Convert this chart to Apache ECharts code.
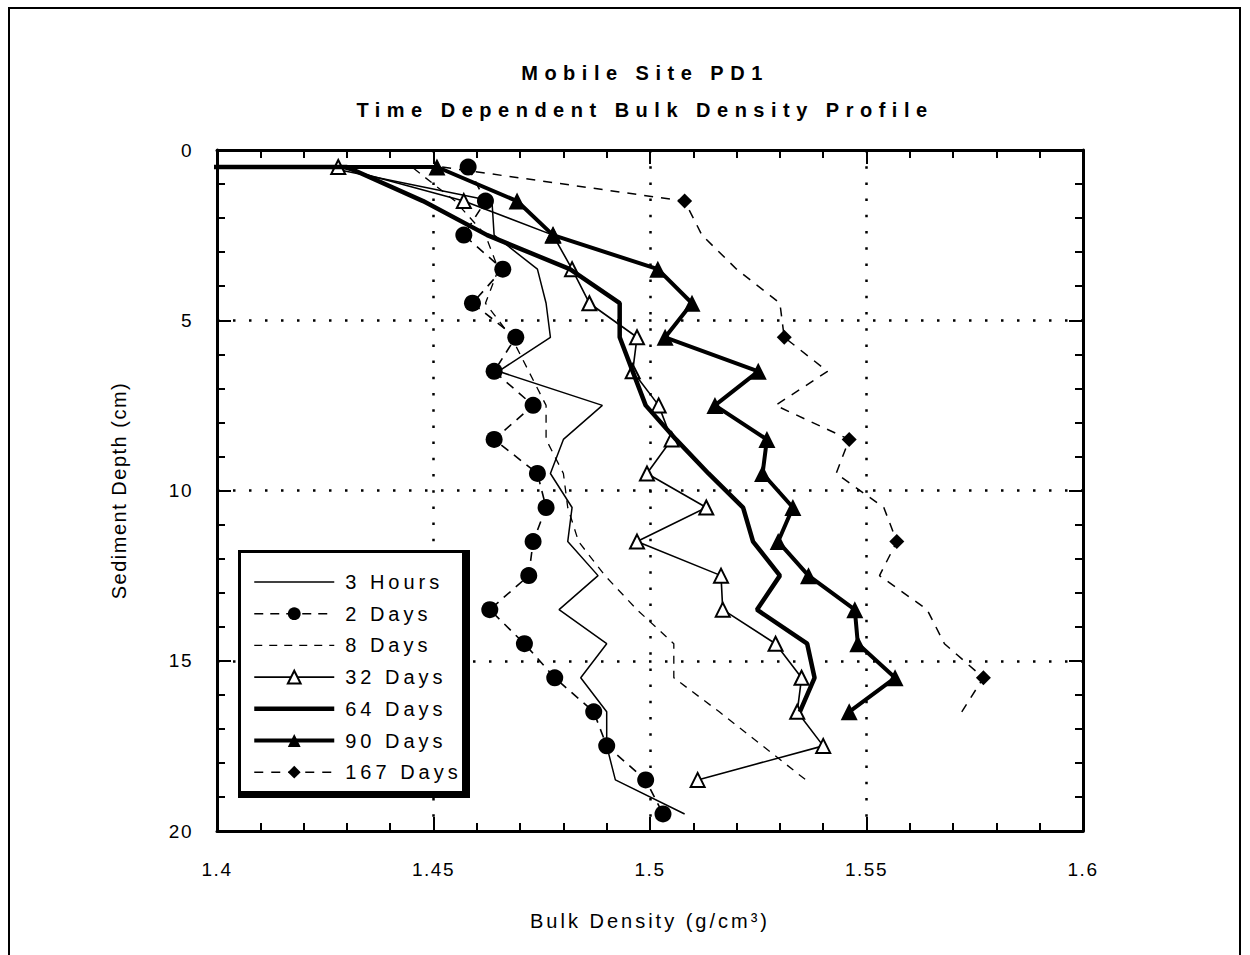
<!DOCTYPE html>
<html>
<head>
<meta charset="utf-8">
<title>Mobile Site PD1</title>
<script src="https://cdn.jsdelivr.net/npm/echarts/dist/echarts.min.js"></script>
<style>
  html, body { margin: 0; padding: 0; background: #fff; }
  #chart { width: 1250px; height: 955px; }
</style>
</head>
<body>
<div id="chart"></div>
<script>
// depth of each sample (cm)
var depths = [0.5, 1.5, 2.5, 3.5, 4.5, 5.5, 6.5, 7.5, 8.5, 9.5,
              10.5, 11.5, 12.5, 13.5, 14.5, 15.5, 16.5, 17.5, 18.5, 19.5];

// bulk density (g/cm3) per depth, null = no sample
var hours3 = [1.425, 1.4635, 1.464, 1.474, 1.476, 1.477, 1.465, 1.489, 1.480, 1.477,
              1.482, 1.481, 1.488, 1.479, 1.490, 1.484, 1.490, 1.490, 1.492, 1.508];
var days2 = [1.458, 1.462, 1.457, 1.466, 1.459, 1.469, 1.464, 1.473, 1.464, 1.474,
             1.476, 1.473, 1.472, 1.463, 1.471, 1.478, 1.487, 1.490, 1.499, 1.503];
var days8 = [1.445, 1.455, 1.462, 1.465, 1.462, 1.468, 1.472, 1.476, 1.476, 1.480,
             1.481, 1.4835, 1.4896, 1.497, 1.5055, 1.5055, 1.516, 1.526, 1.536, null];
var days32 = [1.428, 1.457, 1.4776, 1.482, 1.486, 1.497, 1.496, 1.502, 1.505, 1.4993,
              1.513, 1.497, 1.5164, 1.5168, 1.529, 1.535, 1.534, 1.540, 1.511, null];
var days64 = [1.430, 1.4476, 1.4624, 1.4815, 1.493, 1.493, 1.496, 1.499, 1.506, 1.5135,
              1.5215, 1.5238, 1.530, 1.5247, 1.5363, 1.538, 1.5346, null, null, null];
var days90 = [1.4508, 1.4693, 1.4776, 1.5018, 1.5097, 1.5035, 1.525, 1.515, 1.527, 1.526,
              1.533, 1.5296, 1.5366, 1.5473, 1.548, 1.5566, 1.546, null, null, null];
var days167 = [1.452, 1.508, 1.512, 1.520, 1.530, 1.531, 1.541, 1.529, 1.546, 1.543,
               1.554, 1.557, 1.553, 1.564, 1.568, 1.577, 1.572, null, null, null];

// surface reading below the axis range (line runs in from the left edge)
var surfaceLead = [1.30, null, 1.30, null, 1.30, 1.30, null];
// 167 days only has markers drawn at these depths
var marked167 = [1.5, 5.5, 8.5, 11.5, 15.5];

var seriesNames = ['3 Hours', '2 Days', '8 Days', '32 Days', '64 Days', '90 Days', '167 Days'];
var seriesValues = [hours3, days2, days8, days32, days64, days90, days167];

var titleLines = ['Mobile Site PD1', 'Time Dependent Bulk Density Profile'];
var xName = 'Bulk Density (g/cm\u00b3)';
var yName = 'Sediment Depth (cm)';
var xTicks = [1.4, 1.45, 1.5, 1.55, 1.6];
var yTicks = [0, 5, 10, 15, 20];

var FONT = '"Liberation Sans", Arial, sans-serif';

function buildData(values, lead, marks) {
    var out = [];
    if (lead != null) {
        out.push({ value: [lead, depths[0]], symbolSize: 0 });
    }
    for (var i = 0; i < values.length; i++) {
        if (values[i] == null) continue;
        var item = { value: [values[i], depths[i]] };
        if (marks && marks.indexOf(depths[i]) < 0) item.symbolSize = 0;
        out.push(item);
    }
    return out;
}

var styles = [
    { symbol: 'none', lw: 1.5, dash: 'solid' },
    { symbol: 'circle', size: 17, lw: 1.6, dash: [9, 7], fill: '#000' },
    { symbol: 'none', lw: 1.3, dash: [8, 7] },
    { symbol: 'triangle', size: 14, lw: 1.6, dash: 'solid', fill: '#fff', border: 2 },
    { symbol: 'none', lw: 4.5, dash: 'solid' },
    { symbol: 'triangle', size: 17, lw: 4, dash: 'solid', fill: '#000' },
    { symbol: 'diamond', size: 15, lw: 1.5, dash: [9, 8], fill: '#000' }
];

var series = seriesNames.map(function (name, k) {
    var s = styles[k];
    return {
        name: name,
        type: 'line',
        data: buildData(seriesValues[k], surfaceLead[k], k === 6 ? marked167 : null),
        symbol: s.symbol,
        symbolSize: s.size || 0,
        showSymbol: s.symbol !== 'none',
        clip: true,
        z: 3 + k,
        lineStyle: { color: '#000', width: s.lw, type: s.dash },
        itemStyle: {
            color: s.fill || '#000',
            borderColor: '#000',
            borderWidth: s.border || 0
        },
        emphasis: { disabled: true }
    };
});

// legend entries carry the real line width; marker-less lines get no dot
var legendData = seriesNames.map(function (name, k) {
    var s = styles[k];
    var item = { name: name, lineStyle: { width: s.lw, type: s.dash, color: '#000' } };
    if (s.symbol === 'none') {
        item.itemStyle = { color: 'rgba(0,0,0,0)', borderWidth: 0 };
    }
    return item;
});

function axisCommon() {
    return {
        axisLine: { show: true, onZero: false, lineStyle: { color: '#000', width: 3 } },
        axisTick: { show: true, inside: true, length: 14, lineStyle: { color: '#000', width: 2 } },
        minorTick: { show: true, splitNumber: 5, length: 8, lineStyle: { color: '#000', width: 2 } }
    };
}

var chart = echarts.init(document.getElementById('chart'), null, { renderer: 'svg' });

var option = {
    animation: false,
    backgroundColor: '#fff',
    title: {
        text: titleLines.join('\n'),
        left: 640,
        top: 49,
        textAlign: 'center',
        textStyle: {
            fontFamily: FONT, fontSize: 20, fontWeight: 'bold',
            color: '#000', lineHeight: 37
        }
    },
    grid: { left: 217, top: 150, width: 866, height: 681, outerBoundsMode: 'none' },
    legend: {
        orient: 'vertical',
        left: 252,
        top: 572,
        z: 21,
        data: legendData,
        itemWidth: 80,
        itemHeight: 16,
        itemGap: 11.7,
        padding: 0,
        selectedMode: false,
        textStyle: { fontFamily: FONT, fontSize: 20, color: '#000', lineHeight: 20, padding: [0, 0, 0, 6] }
    },
    xAxis: [
        Object.assign(axisCommon(), {
            type: 'value',
            position: 'bottom',
            min: xTicks[0],
            max: xTicks[xTicks.length - 1],
            interval: 0.05,
            name: xName,
            nameLocation: 'middle',
            nameGap: 80,
            nameTextStyle: { fontFamily: FONT, fontSize: 20, color: '#000' },
            axisLabel: {
                margin: 29, fontFamily: FONT, fontSize: 19, color: '#000',
                formatter: function (v) { return String(+v.toFixed(2)); }
            },
            splitLine: { show: true, lineStyle: { color: '#000', width: 2.5, type: [2.5, 13.7] } }
        }),
        Object.assign(axisCommon(), {
            type: 'value',
            position: 'top',
            min: xTicks[0],
            max: xTicks[xTicks.length - 1],
            interval: 0.05,
            axisLabel: { show: false },
            splitLine: { show: false }
        })
    ],
    yAxis: [
        Object.assign(axisCommon(), {
            type: 'value',
            position: 'left',
            inverse: true,
            min: yTicks[0],
            max: yTicks[yTicks.length - 1],
            interval: 5,
            name: yName,
            nameLocation: 'middle',
            nameGap: 88,
            nameTextStyle: { fontFamily: FONT, fontSize: 20, color: '#000' },
            axisLabel: { margin: 24, fontFamily: FONT, fontSize: 19, color: '#000' },
            splitLine: { show: true, lineStyle: { color: '#000', width: 2.5, type: [2.5, 13.5] } }
        }),
        Object.assign(axisCommon(), {
            type: 'value',
            position: 'right',
            inverse: true,
            min: yTicks[0],
            max: yTicks[yTicks.length - 1],
            interval: 5,
            axisLabel: { show: false },
            splitLine: { show: false }
        })
    ],
    graphic: [
        {   // outer page frame
            type: 'rect',
            shape: { x: 9, y: 8, width: 1231, height: 960 },
            style: { fill: 'none', stroke: '#000', lineWidth: 2 },
            silent: true
        },
        {   // legend box: heavy drop edge
            type: 'rect',
            z: 20,
            shape: { x: 238, y: 550, width: 232, height: 248 },
            style: { fill: '#000' },
            silent: true
        },
        {
            type: 'rect',
            z: 20,
            shape: { x: 241, y: 553, width: 221, height: 238 },
            style: { fill: '#fff' },
            silent: true
        }
    ],
    series: series
};

chart.setOption(option);

// the original lettering is tracked out; add the spacing on the svg text
function trackText() {
    var texts = document.querySelectorAll('#chart svg text');
    for (var i = 0; i < texts.length; i++) {
        var t = texts[i];
        var s = t.textContent;
        var sp = 1.5;
        if (titleLines.indexOf(s) >= 0) sp = 6.5;
        else if (seriesNames.indexOf(s) >= 0) sp = 4;
        else if (s === xName) sp = 3;
        else if (s === yName) sp = 1.5;
        t.setAttribute('letter-spacing', sp + 'px');
    }
}
chart.on('finished', trackText);
trackText();
</script>
</body>
</html>
